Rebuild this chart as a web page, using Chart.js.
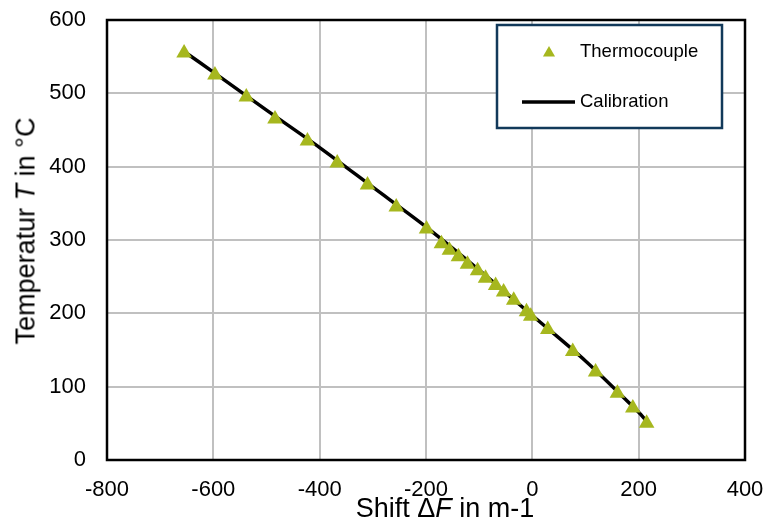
<!DOCTYPE html>
<html>
<head>
<meta charset="utf-8">
<script src="https://cdn.jsdelivr.net/npm/chart.js@4.4.0/dist/chart.umd.min.js"></script>
<style>
    html, body { margin: 0; padding: 0; background: #fff; }
    #wrap { position: relative; width: 764px; height: 522px; overflow: hidden; font-family: "Liberation Sans", Arial, sans-serif; }
    #chart { position: absolute; left: 0; top: 0; }
    .axis-title { position: absolute; font-size: 27px; line-height: 1; white-space: nowrap; color: #000; }
    #xtitle { left: 445px; top: 495px; transform: translateX(-50%); }
    #ytitle { left: 26px; top: 231px; transform: translate(-50%, -50%) rotate(-90deg); }
</style>
</head>
<body>
<div id="wrap">
    <canvas id="chart" width="764" height="522"></canvas>
    <div id="xtitle" class="axis-title">Shift &Delta;<i>F</i> in m-1</div>
    <div id="ytitle" class="axis-title">Temperatur <i>T</i> in °C</div>
</div>
<script>
// thermocouple readings
const shiftTC = [-655, -597, -538, -484, -423, -367, -310, -256, -199, -171, -156, -139, -122,
    -103, -88, -69, -54, -35, -11, -3, 29, 76, 119, 160, 189, 215];
const tempTC = [555, 525, 495, 465, 435, 405, 375, 345, 315, 295, 286, 277, 267,
    258, 248, 238, 229, 218, 202, 196, 178, 148, 120, 91, 71, 50];

// calibration curve
const shiftCal = [-655, -600, -500, -400, -300, -200, -100, 0, 100, 200, 215];
const tempCal = [557, 529, 477, 426, 372, 318, 259, 197, 135, 65, 53];

const xTicks = [-800, -600, -400, -200, 0, 200, 400];
const yTicks = [0, 100, 200, 300, 400, 500, 600];

const FONT = '"Liberation Sans", Arial, sans-serif';
const GREEN = '#a6b71e';

const toPoints = (xs, ys) => xs.map((x, i) => ({ x: x, y: ys[i] }));

const frame = {
    id: 'frame',
    beforeDatasetsDraw(chart) {
        const a = chart.chartArea;
        const ctx = chart.ctx;
        ctx.save();
        ctx.strokeStyle = '#000';
        ctx.lineWidth = 2.5;
        ctx.strokeRect(a.left, a.top, a.right - a.left, a.bottom - a.top);
        ctx.restore();
    }
};

const boxLegend = {
    id: 'boxLegend',
    afterDraw(chart) {
        const a = chart.chartArea;
        const ctx = chart.ctx;
        const left = a.right - 248, top = a.top + 5, w = 225, h = 103;
        const ds = chart.data.datasets;
        ctx.save();
        ctx.fillStyle = '#fff';
        ctx.fillRect(left, top, w, h);
        ctx.strokeStyle = '#12395a';
        ctx.lineWidth = 2.5;
        ctx.strokeRect(left, top, w, h);

        ctx.font = '18.5px ' + FONT;
        ctx.textBaseline = 'middle';

        // marker entry
        const r = 7, cx = left + 52, cy = top + 28;
        ctx.fillStyle = ds[0].backgroundColor;
        ctx.beginPath();
        ctx.moveTo(cx, cy - r);
        ctx.lineTo(cx + r * 0.866, cy + r / 2);
        ctx.lineTo(cx - r * 0.866, cy + r / 2);
        ctx.closePath();
        ctx.fill();
        ctx.fillStyle = '#000';
        ctx.fillText(ds[0].label, left + 83, top + 27);

        // line entry
        ctx.strokeStyle = ds[1].borderColor;
        ctx.lineWidth = 3.5;
        ctx.beginPath();
        ctx.moveTo(left + 25, top + 77);
        ctx.lineTo(left + 78, top + 77);
        ctx.stroke();
        ctx.fillText(ds[1].label, left + 83, top + 77);
        ctx.restore();
    }
};

new Chart(document.getElementById('chart'), {
    type: 'scatter',
    data: {
        datasets: [
            {
                label: 'Thermocouple',
                data: toPoints(shiftTC, tempTC),
                pointStyle: 'triangle',
                pointRadius: 9,
                backgroundColor: GREEN,
                borderColor: GREEN,
                borderWidth: 0,
                showLine: false
            },
            {
                label: 'Calibration',
                data: toPoints(shiftCal, tempCal),
                showLine: true,
                borderColor: '#000',
                borderWidth: 3.5,
                pointRadius: 0,
                tension: 0.3
            }
        ]
    },
    options: {
        responsive: false,
        animation: false,
        layout: { autoPadding: false, padding: { top: 20, right: 19, left: 0, bottom: 0 } },
        plugins: { legend: { display: false }, tooltip: { enabled: false } },
        scales: {
            x: {
                type: 'linear',
                min: -800,
                max: 400,
                afterBuildTicks: (s) => { s.ticks = xTicks.map(v => ({ value: v })); },
                afterFit: (s) => { s.height = 62; s.paddingLeft = 0; s.paddingRight = 0; },
                ticks: { color: '#000', font: { size: 22, family: FONT }, padding: 17 },
                grid: { color: '#c0c0c0', lineWidth: 2, drawTicks: false },
                border: { display: false }
            },
            y: {
                type: 'linear',
                min: 0,
                max: 600,
                afterBuildTicks: (s) => { s.ticks = yTicks.map(v => ({ value: v })); },
                afterFit: (s) => { s.width = 107; s.paddingTop = 0; s.paddingBottom = 0; },
                ticks: { color: '#000', font: { size: 22, family: FONT }, padding: 21 },
                grid: { color: '#c0c0c0', lineWidth: 2, drawTicks: false },
                border: { display: false }
            }
        }
    },
    plugins: [frame, boxLegend]
});
</script>
</body>
</html>
